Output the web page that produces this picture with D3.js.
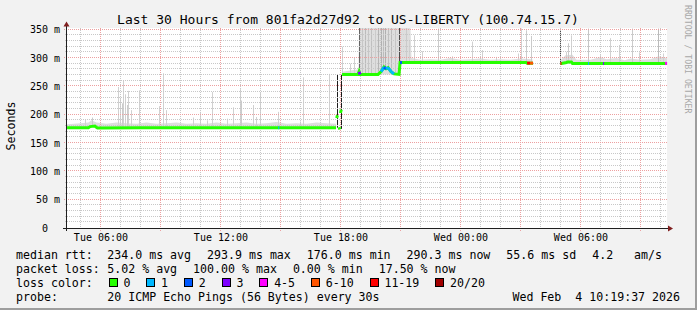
<!DOCTYPE html>
<html>
<head>
<meta charset="utf-8">
<script src="https://cdn.jsdelivr.net/npm/d3@7"></script>
<style>
  body { margin: 0; background: #f2f2f2; }
  svg { display: block; font-family: "DejaVu Sans Mono", monospace; }
  text { white-space: pre; }
</style>
</head>
<body>
<div id="chart"></div>
<script>
// times are hours since Tue 00:00, rtt in ms
var startHour = 4.327, endHour = 34.327
var rttTicks = [0, 50, 100, 150, 200, 250, 300, 350]

var medianTime = [4.33, 5.40, 5.48, 5.72, 5.78, 5.85, 8.00, 11.00, 14.84, 14.89, 14.94, 17.78,
  17.80, 17.81, 17.85, 17.87, 17.93, 17.97, 17.99, 18.00, 18.04, 18.06,
  18.08, 18.88, 18.93, 18.98, 19.88, 20.03, 20.18, 20.28, 20.38,
  20.53, 20.68, 20.93, 20.98, 21.08, 24.00, 27.28, 27.33, 27.48, 27.63, 27.68, 28.99, 29.00,
  29.05, 29.30, 29.35, 29.55, 29.60, 30.33, 30.38, 30.43, 31.08, 31.13, 31.18, 34.18, 34.23, 34.33]
var medianRtt = [177, 177, 179, 180, 178, 176.5, 177, 177, 177, 177, 177, 177,
  null, 194, 199, null, 178, 174, null, 203, 209, null,
  271, 271, 276, 271, 271, 276, 284, 281, 283,
  276, 272, 271, 292, 292, 292, 292, 291, 291, 291, null, null, 290.5,
  290.5, 292, 293, 293, 290.5, 290.5, 290.5, 290.5, 290.5, 290.5, 290.5, 290.5, 290.5, 290.5]
var medianLoss = [0, 0, 0, 0, 0, 0, 0, 0, 0, 1, 0, 0,
  0, 0, 0, 0, 0, 0, 0, 0, 0, 0,
  0, 0, 3, 0, 0, 1, 2, 1, 1,
  1, 0, 0, 2, 0, 0, 0, 15, 8, 8, 0, 0, 15,
  0, 0, 0, 0, 0, 0, 1, 0, 0, 3, 0, 0, 4, 4]

// light smoke band: [time, low, high]
var smokeBand = [
  [4.33, 177, 183], [5.00, 177, 185], [5.40, 177, 186], [5.55, 179, 190], [5.80, 177, 186],
  [6.30, 177, 184], [6.80, 177, 186], [7.30, 177, 185], [7.80, 177, 184], [8.30, 177, 186],
  [8.80, 177, 184], [9.30, 177, 185], [9.80, 177, 186], [10.30, 177, 184], [10.80, 177, 185],
  [11.30, 177, 184], [11.80, 177, 186], [12.30, 177, 184], [12.80, 177, 185], [13.30, 177, 186],
  [13.80, 177, 184], [14.30, 177, 185], [14.80, 177, 187], [15.30, 177, 184], [15.80, 177, 185],
  [16.30, 177, 184], [16.80, 177, 186], [17.30, 177, 185], [17.78, 177, 184], [17.80, null, null],
  [18.08, 271, 276], [18.50, 271, 278], [18.90, 271, 280], [18.93, 271, 355], [20.93, 271, 355],
  [20.98, 292, 355], [21.50, 292, 355], [21.55, 292, 300], [22.00, 292, 297], [22.50, 292, 298],
  [23.00, 292, 297], [23.50, 292, 300], [24.00, 292, 297], [24.50, 292, 298], [25.00, 292, 299],
  [25.50, 292, 297], [26.00, 292, 298], [26.50, 292, 297], [27.00, 292, 299], [27.60, 291, 298],
  [27.65, null, null], [28.99, null, null],
  [29.00, 290.5, 296], [29.25, 290.5, 305], [29.60, 290.5, 306], [29.80, 290.5, 297],
  [30.50, 290.5, 297], [31.00, 290.5, 302], [31.30, 290.5, 298], [31.80, 290.5, 300],
  [32.20, 290.5, 296], [32.50, 290.5, 299], [33.00, 290.5, 297], [33.50, 290.5, 298],
  [33.90, 290.5, 303], [34.33, 290.5, 300]
]

// single smoke columns: [time, low, high, pings in column]
var smokeSpikes = [
  [5.23, 177, 192, 2], [5.60, 179, 195, 3], [6.90, 177, 249, 2], [6.98, 177, 230, 2],
  [7.06, 177, 220, 3], [7.14, 177, 260, 2], [7.22, 177, 236, 2], [7.31, 177, 217, 3],
  [7.39, 177, 242, 2], [7.51, 177, 208, 2], [7.94, 177, 243, 2], [8.93, 177, 215, 2],
  [9.14, 177, 273, 2], [9.28, 177, 208, 2], [10.63, 177, 195, 2], [10.98, 177, 205, 2],
  [11.31, 177, 190, 2], [11.56, 177, 240, 2], [12.31, 177, 193, 2], [12.61, 177, 213, 2],
  [12.98, 177, 245, 2], [13.03, 177, 225, 3], [13.61, 177, 217, 2], [13.78, 177, 196, 2],
  [13.98, 177, 240, 2], [14.89, 177, 205, 2], [15.98, 177, 188, 2], [16.14, 177, 266, 2],
  [17.43, 177, 272, 2],
  [17.83, 177, 271, 20], [18.03, 175, 271, 20], [18.06, 271, 320, 2], [18.50, 271, 290, 2],
  [18.70, 271, 300, 2], [18.93, 276, 355, 14], [19.10, 271, 355, 4], [19.25, 271, 355, 6],
  [19.40, 271, 355, 4], [19.55, 271, 355, 5], [19.75, 271, 355, 3], [19.90, 276, 355, 7],
  [20.05, 276, 355, 8], [20.15, 280, 355, 6], [20.25, 281, 355, 8], [20.40, 283, 355, 5],
  [20.55, 276, 355, 6], [20.75, 272, 355, 4], [20.93, 271, 355, 16],
  [21.30, 292, 355, 3], [21.45, 292, 330, 2], [21.70, 292, 340, 2], [22.10, 292, 312, 2],
  [22.90, 292, 352, 3], [23.60, 292, 303, 2], [24.60, 292, 329, 2], [25.10, 292, 314, 2],
  [25.80, 292, 302, 2], [26.90, 292, 308, 2], [27.05, 292, 352, 2], [27.30, 291, 349, 3],
  [27.55, 291, 339, 3],
  [29.00, 290.5, 355, 16], [29.28, 290.5, 311, 2], [29.40, 290.5, 326, 3], [29.55, 290.5, 340, 2],
  [30.38, 290.5, 352, 4], [30.96, 290.5, 305, 2], [31.50, 290.5, 335, 2], [31.92, 290.5, 323, 2],
  [32.60, 290.5, 352, 3], [32.92, 290.5, 310, 2], [33.88, 290.5, 352, 6], [34.13, 290.5, 308, 2]
]

var lossLabels = ['0', '1', '2', '3', '4-5', '6-10', '11-19', '20/20']
var lossBreaks = [1, 2, 3, 4, 6, 11, 20]
var lossColors = ['#26ff00', '#00b8ff', '#0059ff', '#7e00ff', '#ff00ff', '#ff5500', '#ff0000', '#a10000']

var rttStats = ['234.0 ms avg', '293.9 ms max', '176.0 ms min', '290.3 ms now', '55.6 ms sd']
var ampsText = '4.2   am/s'
var lossStats = ['5.02 % avg', '100.00 % max', '0.00 % min', '17.50 % now']
var probeText = '20 ICMP Echo Pings (56 Bytes) every 30s'
var stampText = 'Wed Feb  4 10:19:37 2026'
var titleText = 'Last 30 Hours from 801fa2d27d92 to US-LIBERTY (100.74.15.7)'

var width = 697, height = 310
var plot = {left: 67, right: 667, top: 28, bottom: 228}

function hourToDate(h) {
  return new Date(2026, 1, 3, 0, 0, 0, Math.round(h * 3600000))
}
function crisp(v) { return Math.round(v) + 0.5 }

var x = d3.scaleTime()
  .domain([hourToDate(startHour), hourToDate(endHour)])
  .range([plot.left, plot.right])
var y = d3.scaleLinear()
  .domain([0, 353])
  .range([plot.bottom, plot.top])
var lossColor = d3.scaleThreshold().domain(lossBreaks).range(lossColors)
var smokeShade = d3.scaleLinear()
  .domain([1, 8, 20])
  .range(['#d6d6d6', '#b0b0b0', '#1c1c1c'])

var svg = d3.select('#chart').append('svg')
  .attr('width', width).attr('height', height)

svg.append('rect').attr('width', width).attr('height', height).attr('fill', '#f2f2f2')
// frame shading
svg.append('rect').attr('x', 0).attr('y', height - 2).attr('width', width).attr('height', 2).attr('fill', '#9e9e9e')
svg.append('rect').attr('x', width - 2).attr('y', 0).attr('width', 2).attr('height', height).attr('fill', '#9e9e9e')

svg.append('rect')
  .attr('x', plot.left).attr('y', plot.top)
  .attr('width', plot.right - plot.left).attr('height', plot.bottom - plot.top)
  .attr('fill', '#fff')

svg.append('defs').append('clipPath').attr('id', 'clip')
  .append('rect')
  .attr('x', plot.left).attr('y', plot.top)
  .attr('width', plot.right - plot.left).attr('height', plot.bottom - plot.top)

// smoke
var area = d3.area()
  .defined(function(d){ return d[2] != null })
  .x(function(d){ return x(hourToDate(d[0])) })
  .y0(function(d){ return y(d[1]) })
  .y1(function(d){ return y(d[2]) })

var smoke = svg.append('g').attr('clip-path', 'url(#clip)')
smoke.append('path')
  .datum(smokeBand)
  .attr('d', area)
  .attr('fill', '#dedede')

smoke.selectAll('line')
  .data(smokeSpikes.slice().sort(function(a, b){ return a[3] - b[3] }))
  .enter()
  .append('line')
  .attr('x1', function(d){ return crisp(x(hourToDate(d[0]))) })
  .attr('x2', function(d){ return crisp(x(hourToDate(d[0]))) })
  .attr('y1', function(d){ return y(d[1]) })
  .attr('y2', function(d){ return y(d[2]) })
  .attr('stroke', function(d){ return smokeShade(d[3]) })
  .attr('stroke-width', 1)

// grid
var grid = svg.append('g')
var hourTicks = x.ticks(d3.timeHour.every(1))
var majorTicks = x.ticks(d3.timeHour.every(3)).map(Number)
var minorRtt = y.ticks(35).filter(function(v){ return rttTicks.indexOf(v) < 0 })

grid.selectAll('.hmin').data(minorRtt).enter().append('line')
  .attr('x1', plot.left - 2).attr('x2', plot.right)
  .attr('y1', function(d){ return crisp(y(d)) - 1 }).attr('y2', function(d){ return crisp(y(d)) - 1 })
  .attr('stroke', '#c8c8c8').attr('stroke-dasharray', '1,1')
grid.selectAll('.vmin').data(hourTicks.filter(function(d){ return majorTicks.indexOf(+d) < 0 })).enter().append('line')
  .attr('x1', function(d){ return crisp(x(d)) }).attr('x2', function(d){ return crisp(x(d)) })
  .attr('y1', plot.top).attr('y2', plot.bottom + 2)
  .attr('stroke', '#c8c8c8').attr('stroke-dasharray', '1,1')
grid.selectAll('.hmaj').data(rttTicks.slice(1)).enter().append('line')
  .attr('x1', plot.left - 3).attr('x2', plot.right)
  .attr('y1', function(d){ return crisp(y(d)) - 1 }).attr('y2', function(d){ return crisp(y(d)) - 1 })
  .attr('stroke', '#eda0a0').attr('stroke-dasharray', '1,1')
grid.selectAll('.vmaj').data(majorTicks).enter().append('line')
  .attr('x1', function(d){ return crisp(x(d)) }).attr('x2', function(d){ return crisp(x(d)) })
  .attr('y1', plot.top).attr('y2', plot.bottom + 3)
  .attr('stroke', '#eda0a0').attr('stroke-dasharray', '1,1')

// median line coloured by loss
var median = medianTime.map(function(t, i){
  return {t: t, rtt: medianRtt[i], loss: medianLoss[i]}
})
var line = d3.line()
  .defined(function(d){ return d.rtt != null })
  .x(function(d){ return x(hourToDate(d.t)) })
  .y(function(d){ return y(d.rtt) })
svg.append('path')
  .datum(median)
  .attr('d', line)
  .attr('fill', 'none')
  .attr('stroke', lossColors[0])
  .attr('stroke-width', 3)

var lossSegs = d3.pairs(median).filter(function(p){
  return p[0].rtt != null && p[1].rtt != null && p[0].loss > 0
})
svg.append('g').selectAll('line')
  .data(lossSegs)
  .enter()
  .append('line')
  .attr('x1', function(p){ return x(hourToDate(p[0].t)) })
  .attr('x2', function(p){ return x(hourToDate(p[1].t)) })
  .attr('y1', function(p){ return y(p[0].rtt) })
  .attr('y2', function(p){ return y(p[1].rtt) })
  .attr('stroke', function(p){ return lossColor(p[0].loss) })
  .attr('stroke-width', 3)

// axes
var yAxis = d3.axisLeft(y)
  .tickValues(rttTicks)
  .tickSize(0)
  .tickPadding(7)
  .tickFormat(function(d){ return d === 0 ? '0\u00a0\u00a0' : d + ' m' })
var yG = svg.append('g')
  .attr('transform', 'translate(' + plot.left + ',0)')
  .call(yAxis)
yG.select('.domain').remove()
yG.selectAll('text').attr('font-size', 10).attr('font-family', '"DejaVu Sans Mono", monospace').attr('fill', '#000')

var xAxis = d3.axisBottom(x)
  .ticks(d3.timeHour.every(6))
  .tickSize(0)
  .tickPadding(6)
  .tickFormat(d3.timeFormat('%a %H:%M'))
var xG = svg.append('g')
  .attr('transform', 'translate(0,' + plot.bottom + ')')
  .call(xAxis)
xG.select('.domain').remove()
xG.selectAll('text').attr('font-size', 10).attr('font-family', '"DejaVu Sans Mono", monospace').attr('fill', '#000')

svg.append('line')
  .attr('x1', plot.left - 0.5).attr('x2', plot.left - 0.5)
  .attr('y1', plot.bottom + 3).attr('y2', plot.top - 4)
  .attr('stroke', '#1f1f1f')
svg.append('line')
  .attr('x1', plot.left - 4).attr('x2', plot.right + 2)
  .attr('y1', plot.bottom + 0.5).attr('y2', plot.bottom + 0.5)
  .attr('stroke', '#1f1f1f')
svg.append('path')
  .attr('d', 'M' + (plot.left - 3.5) + ',' + (plot.top - 1.5) + 'L' + (plot.left + 2.5) + ',' + (plot.top - 1.5) +
    'L' + (plot.left - 0.5) + ',' + (plot.top - 6.5) + 'Z')
  .attr('fill', '#801f1f')
svg.append('path')
  .attr('d', 'M' + (plot.right + 1) + ',' + (plot.bottom - 2.5) + 'L' + (plot.right + 1) + ',' + (plot.bottom + 3.5) +
    'L' + (plot.right + 6) + ',' + (plot.bottom + 0.5) + 'Z')
  .attr('fill', '#801f1f')

// titles
svg.append('text')
  .attr('x', 348).attr('y', 24)
  .attr('text-anchor', 'middle')
  .attr('font-size', 13)
  .text(titleText)
svg.append('text')
  .attr('transform', 'translate(15,126) rotate(-90)')
  .attr('text-anchor', 'middle')
  .attr('font-size', 11.6)
  .text('Seconds')
svg.append('text')
  .attr('transform', 'translate(685,5) rotate(90)')
  .attr('font-size', 8.2)
  .attr('fill', '#a8a8a8')
  .text('RRDTOOL / TOBI OETIKER')

// legend
var legend = svg.append('g').attr('font-size', 11.6)
var col = 107.3, gap = 16

function row(label, items, yPos) {
  legend.append('text').attr('x', 16).attr('y', yPos).text(label)
  var cx = col
  items.forEach(function(s){
    var t = legend.append('text').attr('x', cx).attr('y', yPos).text(s)
    cx += t.node().getComputedTextLength() + gap
  })
}
row('median rtt:', rttStats, 258.5)
legend.append('text').attr('x', 662).attr('y', 258.5).attr('text-anchor', 'end').text(ampsText)
row('packet loss:', lossStats, 272.5)

legend.append('text').attr('x', 16).attr('y', 286.5).text('loss color:')
var sx = 108.7
lossLabels.forEach(function(lbl, i){
  legend.append('rect')
    .attr('x', Math.round(sx) + 0.5).attr('y', 278.5)
    .attr('width', 8).attr('height', 8)
    .attr('fill', lossColors[i]).attr('stroke', '#000')
  var t = legend.append('text').attr('x', sx + 14.7).attr('y', 286.5).text(lbl)
  sx += 14.7 + t.node().getComputedTextLength() + gap
})

row('probe:', [probeText], 300.5)
legend.append('text').attr('x', 680).attr('y', 300.5).attr('text-anchor', 'end').text(stampText)
</script>
</body>
</html>
